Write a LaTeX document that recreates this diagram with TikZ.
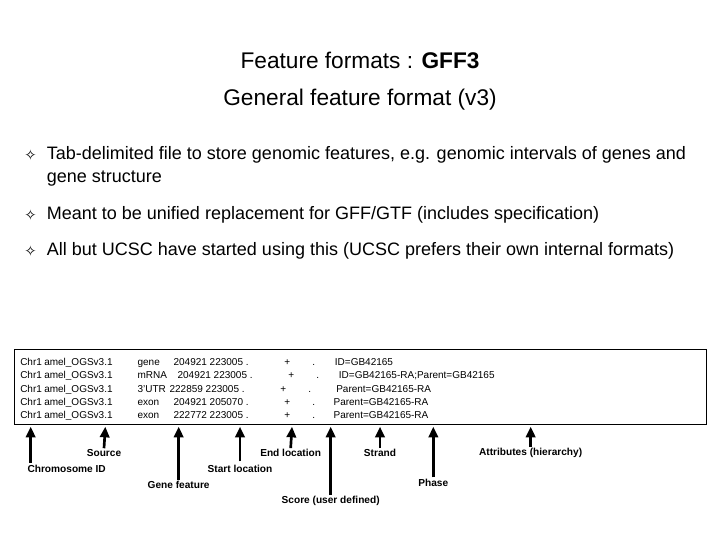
\documentclass[tikz,border=0pt]{standalone}
\usepackage{fontspec}
\setmainfont{Liberation Sans}
\newfontfamily\djvfont{DejaVu Sans}
\usetikzlibrary{arrows.meta}
\begin{document}
\begin{tikzpicture}[x=1pt,y=-1pt,
  bul/.style={anchor=north west,font=\fontsize{13.5}{17}\selectfont,text width=480pt,inner sep=0pt,align=flush left},
  row/.style={anchor=base west,font=\fontsize{7.5}{8}\selectfont,inner sep=0pt},
  lab/.style={font=\fontsize{8}{9}\selectfont\bfseries,inner sep=1pt,scale=0.95},
  arr/.style={-{Triangle[length=8pt,width=7pt]},line width=2pt}]
\useasboundingbox (0,0) rectangle (540,405);
\node (t1) at (270,45) {\fontsize{17}{20}\selectfont Feature formats : \textbf{GFF3}};
\node (t2) at (270,75) {\fontsize{17}{20}\selectfont General feature format (v3)};
\node (b1s) at (18,112) [anchor=north west,inner sep=0pt] {\djvfont\fontsize{11}{14}\selectfont ✧};
\node (b1) at (35,110) [bul] {Tab-delimited file to store genomic features, e.g. genomic intervals of genes and gene structure};
\node (b2s) at (18,157) [anchor=north west,inner sep=0pt] {\djvfont\fontsize{11}{14}\selectfont ✧};
\node (b2) at (35,155) [bul] {Meant to be unified replacement for GFF/GTF (includes specification)};
\node (b3s) at (18,184) [anchor=north west,inner sep=0pt] {\djvfont\fontsize{11}{14}\selectfont ✧};
\node (b3) at (35,182) [bul] {All but UCSC have started using this (UCSC prefers their own internal formats)};
\draw[line width=0.6pt] (11,262) rectangle (530,318);
\foreach \y/\a/\b/\c/\d/\e/\f/\g [count=\i] in {
 274/gene/204921 223005 ./+/./ID=GB42165/0/0,
 284/mRNA/204921 223005 ./+/./ID=GB42165-RA;Parent=GB42165/3/3,
 294/3'UTR/222859 223005 ./+/./Parent=GB42165-RA/-3/1,
 304/exon/204921 205070 ./+/./Parent=GB42165-RA/0/-1,
 314/exon/222772 223005 ./+/./Parent=GB42165-RA/0/-1}{
 \node (c\i) at (15,\y) [row] {Chr1};
 \node (s\i) at (33,\y) [row] {amel\_OGSv3.1};
 \node (g\i) at (103,\y) [row] {\a};
 \node (n\i) at ({130+\f},\y) [row] {\b};
 \node (p\i) at ({213+\f},\y) [row] {\c};
 \node (d\i) at ({234+\f},\y) [row] {\d};
 \node (a\i) at ({251+\g},\y) [row] {\e};
}
\node (L1) at (50,352) [lab] {Chromosome ID};
\node (L2) at (78,340) [lab] {Source};
\node (L3) at (134,364) [lab] {Gene feature};
\node (L4) at (180,352) [lab] {Start location};
\node (L5) at (218,340) [lab] {End location};
\node (L6) at (248,376) [lab] {Score (user defined)};
\node (L7) at (285,340) [lab] {Strand};
\node (L8) at (325,362) [lab] {Phase};
\node (L9) at (398,340) [lab] {Attributes (hierarchy)};
\coordinate (T1) at (23,320); \coordinate (T2) at (79,320); \coordinate (T3) at (134,320);
\coordinate (T4) at (180,320); \coordinate (T5) at (219,320); \coordinate (T6) at (248,320);
\coordinate (T7) at (285,320); \coordinate (T8) at (325,320); \coordinate (T9) at (398,320);
\draw[arr] (23,347) -- (T1);
\draw[arr] (L2.north) -- (T2);
\draw[arr] (L3.north) -- (T3);
\draw[arr] (180,346) -- (T4);
\draw[arr] (L5.north) -- (T5);
\draw[arr] (L6.north) -- (T6);
\draw[arr] (L7.north) -- (T7);
\draw[arr] (L8.north) -- (T8);
\draw[arr] (L9.north) -- (T9);
\end{tikzpicture}
\end{document}
